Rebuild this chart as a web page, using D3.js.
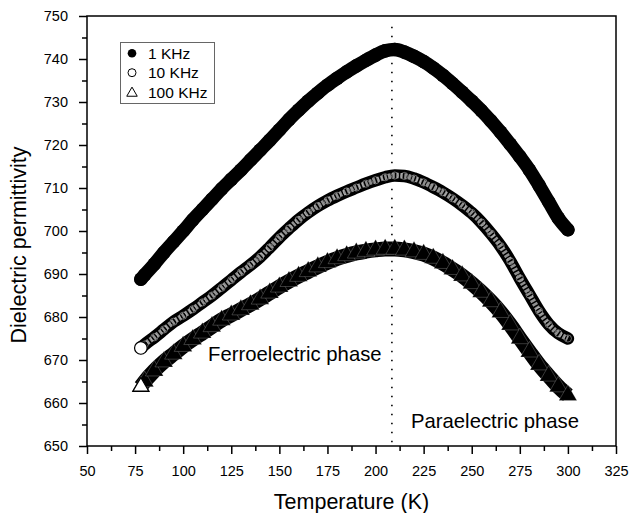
<!DOCTYPE html>
<html>
<head>
<meta charset="utf-8">
<script src="https://cdn.jsdelivr.net/npm/d3@7/dist/d3.min.js"></script>
<style>
  body { margin: 0; background: #fff; }
  svg { display: block; font-family: 'Liberation Sans', Arial, sans-serif; }
  .axis path, .axis line { stroke: #000; stroke-width: 1.5; }
  .axis text { font-size: 14.5px; fill: #000; }
</style>
</head>
<body>
<svg width="632" height="513"></svg>
<script>
// temperature (K)
const temps = [78, 80, 85, 90, 95, 100, 105, 110, 115, 120, 125, 130, 135, 140, 145, 150,
  155, 160, 165, 170, 175, 180, 185, 190, 195, 200, 205, 210, 215, 220, 225, 230,
  235, 240, 245, 250, 255, 260, 265, 270, 275, 280, 285, 290, 295, 300];

const eps1k = [688.8, 689.8, 692.3, 695.0, 697.5, 700.0, 702.6, 705.0, 707.4, 709.8, 712.0, 714.2,
  716.5, 718.8, 721.1, 723.5, 725.9, 728.1, 730.2, 732.1, 733.9, 735.5, 737.0, 738.4,
  739.7, 740.9, 741.9, 742.2, 741.6, 740.6, 739.4, 737.9, 736.2, 734.3, 732.3, 730.2,
  728.0, 725.6, 723.0, 720.2, 717.3, 714.2, 710.6, 706.8, 703.0, 700.3];

const eps10k = [672.8, 673.6, 675.3, 677.1, 678.9, 680.3, 681.8, 683.4, 685.0, 686.8, 688.6, 690.4,
  692.1, 694.0, 696.2, 698.5, 700.6, 702.6, 704.3, 705.8, 707.1, 708.2, 709.2, 710.1,
  711.0, 711.8, 712.5, 712.9, 712.8, 712.2, 711.3, 710.2, 709.0, 707.6, 706.0, 704.2,
  702.0, 699.4, 696.5, 693.0, 689.0, 685.2, 681.4, 678.3, 676.2, 675.0];

const eps100k = [663.8, 665.0, 667.5, 669.6, 671.4, 673.2, 674.8, 676.3, 677.8, 679.3, 680.5, 681.7,
  682.9, 684.2, 685.6, 687.0, 688.3, 689.5, 690.6, 691.7, 692.7, 693.6, 694.3, 694.9,
  695.3, 695.6, 695.8, 695.8, 695.6, 695.2, 694.6, 693.7, 692.5, 691.1, 689.6, 687.8,
  685.8, 683.6, 681.1, 678.2, 675.0, 671.9, 668.9, 666.3, 663.8, 661.8];

const legendLabels = ['1 KHz', '10 KHz', '100 KHz'];
const xTicks = d3.range(50, 326, 25);
const yTicks = d3.range(650, 751, 10);
const tc = 208.5; // transition temperature (dotted line)

let svg = d3.select('svg');

let x = d3.scaleLinear().domain([50, 325]).range([87, 616]);
let y = d3.scaleLinear().domain([650, 750]).range([446, 16]);

let line = d3.line()
  .x(d => x(d[0]))
  .y(d => y(d[1]))
  .curve(d3.curveMonotoneX);

let s1 = temps.map((t, i) => [t, eps1k[i]]);
let s2 = temps.map((t, i) => [t, eps10k[i]]);
let s3 = temps.map((t, i) => [t, eps100k[i]]);

// frame
svg.append('rect')
  .attr('x', x(50)).attr('y', y(750))
  .attr('width', x(325) - x(50)).attr('height', y(650) - y(750))
  .attr('fill', 'none').attr('stroke', '#000').attr('stroke-width', 1.5);

// minor ticks
svg.append('g')
  .attr('class', 'axis')
  .attr('transform', `translate(0,${y(650)})`)
  .call(d3.axisBottom(x).tickValues(d3.range(62.5, 325, 25)).tickSize(5).tickFormat(''))
  .call(g => g.select('.domain').remove());
svg.append('g')
  .attr('class', 'axis')
  .attr('transform', `translate(${x(50)},0)`)
  .call(d3.axisLeft(y).tickValues(d3.range(655, 750, 10)).tickSize(5).tickFormat(''))
  .call(g => g.select('.domain').remove());

// major ticks
svg.append('g')
  .attr('class', 'axis')
  .attr('transform', `translate(0,${y(650)})`)
  .call(d3.axisBottom(x).tickValues(xTicks).tickSize(8).tickPadding(12).tickFormat(d3.format('d')))
  .call(g => g.select('.domain').remove());
svg.append('g')
  .attr('class', 'axis')
  .attr('transform', `translate(${x(50)},0)`)
  .call(d3.axisLeft(y).tickValues(yTicks).tickSize(8).tickPadding(11).tickFormat(d3.format('d')))
  .call(g => g.select('.domain').remove());

// 1 KHz - filled circles
svg.append('path')
  .attr('d', line(s1))
  .attr('fill', 'none').attr('stroke', '#000')
  .attr('stroke-width', 13.5).attr('stroke-linecap', 'round');
svg.append('g').selectAll('circle')
  .data(s1).enter().append('circle')
  .attr('cx', d => x(d[0])).attr('cy', d => y(d[1]))
  .attr('r', 6.8).attr('fill', '#000');

// 10 KHz - open circles packed together
svg.append('path')
  .attr('d', line(s2))
  .attr('fill', 'none').attr('stroke', '#000')
  .attr('stroke-width', 12.5).attr('stroke-linecap', 'round');
svg.append('path')
  .attr('d', line(s2))
  .attr('fill', 'none').attr('stroke', '#8f8f8f')
  .attr('stroke-width', 5.5).attr('stroke-dasharray', '2.5,1.5');
svg.append('g').selectAll('path')
  .data(s2).enter().append('path')
  .attr('d', d3.symbol().type(d3.symbolCircle).size(40))
  .attr('transform', d => `translate(${x(d[0])},${y(d[1])})`)
  .attr('fill', 'none')
  .attr('stroke', '#d0d0d0').attr('stroke-width', 0.5);
svg.append('circle')
  .attr('cx', x(s2[0][0])).attr('cy', y(s2[0][1]))
  .attr('r', 6.3).attr('fill', '#fff').attr('stroke', '#000').attr('stroke-width', 1.2);

// 100 KHz - triangles
let tri = d3.symbol().type(d3.symbolTriangle).size(140);
svg.append('path')
  .attr('d', line(s3))
  .attr('fill', 'none').attr('stroke', '#000')
  .attr('stroke-width', 15);
svg.append('g').selectAll('path')
  .data(s3).enter().append('path')
  .attr('d', tri)
  .attr('transform', d => `translate(${x(d[0])},${y(d[1])})`)
  .attr('fill', '#000').attr('stroke', '#fff').attr('stroke-width', 0.4)
  .attr('stroke-opacity', 0.55);
svg.append('path')
  .attr('d', d3.symbol().type(d3.symbolTriangle).size(110))
  .attr('transform', `translate(${x(s3[0][0])},${y(s3[0][1])})`)
  .attr('fill', '#fff').attr('stroke', '#000').attr('stroke-width', 1.3);

// dotted Tc line
svg.append('line')
  .attr('x1', x(tc)).attr('x2', x(tc))
  .attr('y1', y(747.5)).attr('y2', y(650))
  .attr('stroke', '#000').attr('stroke-width', 1.6)
  .attr('stroke-dasharray', '1.6,7.4');

// phase labels
svg.append('text')
  .attr('x', 208).attr('y', 361)
  .attr('font-size', '20.3px').text('Ferroelectric phase');
svg.append('text')
  .attr('x', 411).attr('y', 428)
  .attr('font-size', '20.3px').text('Paraelectric phase');

// legend
let lg = svg.append('g');
lg.append('rect')
  .attr('x', 120.5).attr('y', 42.5).attr('width', 94).attr('height', 61)
  .attr('fill', '#fff').attr('stroke', '#666').attr('stroke-width', 1);
let rows = [53.3, 72.7, 92.7];
lg.append('circle').attr('cx', 132).attr('cy', rows[0]).attr('r', 4.3).attr('fill', '#000');
lg.append('circle').attr('cx', 132).attr('cy', rows[1]).attr('r', 4).attr('fill', '#fff')
  .attr('stroke', '#000').attr('stroke-width', 1);
lg.append('path').attr('d', d3.symbol().type(d3.symbolTriangle).size(48))
  .attr('transform', `translate(132,${rows[2] + 0.5})`)
  .attr('fill', '#fff').attr('stroke', '#000').attr('stroke-width', 1);
lg.selectAll('text.lab')
  .data(legendLabels).enter().append('text')
  .attr('class', 'lab')
  .attr('x', 148).attr('y', (d, i) => rows[i] + 5.5)
  .attr('font-size', '15.5px')
  .text(d => d);

// axis titles
svg.append('text')
  .attr('x', (x(50) + x(325)) / 2).attr('y', 509)
  .attr('text-anchor', 'middle').attr('font-size', '21.5px')
  .text('Temperature (K)');
svg.append('text')
  .attr('transform', 'translate(26,245) rotate(-90)')
  .attr('text-anchor', 'middle').attr('font-size', '21.5px')
  .text('Dielectric permittivity');
</script>
</body>
</html>
